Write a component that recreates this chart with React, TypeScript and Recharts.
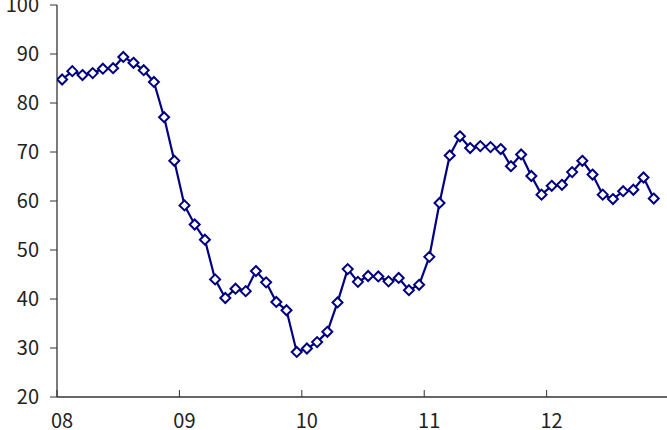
import React from 'react';
import { LineChart, Line, XAxis, YAxis } from 'recharts';

const months: string[] = [
  '2008-01','2008-02','2008-03','2008-04','2008-05','2008-06','2008-07','2008-08','2008-09','2008-10','2008-11','2008-12',
  '2009-01','2009-02','2009-03','2009-04','2009-05','2009-06','2009-07','2009-08','2009-09','2009-10','2009-11','2009-12',
  '2010-01','2010-02','2010-03','2010-04','2010-05','2010-06','2010-07','2010-08','2010-09','2010-10','2010-11','2010-12',
  '2011-01','2011-02','2011-03','2011-04','2011-05','2011-06','2011-07','2011-08','2011-09','2011-10','2011-11','2011-12',
  '2012-01','2012-02','2012-03','2012-04','2012-05','2012-06','2012-07','2012-08','2012-09','2012-10','2012-11',
];

const values: number[] = [
  84.8, 86.5, 85.7, 86.1, 87.0, 87.1, 89.4, 88.2, 86.7, 84.3, 77.1, 68.2,
  59.1, 55.2, 52.1, 44.0, 40.2, 42.1, 41.6, 45.7, 43.4, 39.4, 37.7, 29.2,
  29.9, 31.2, 33.3, 39.3, 46.1, 43.5, 44.7, 44.6, 43.6, 44.3, 41.8, 42.9,
  48.6, 59.6, 69.3, 73.2, 70.8, 71.2, 71.0, 70.6, 67.1, 69.5, 65.1, 61.3,
  63.1, 63.3, 65.9, 68.2, 65.4, 61.3, 60.4, 62.0, 62.3, 64.8, 60.5,
];

const yearTickPositions: number[] = [0, 12, 24, 36, 48];
const yearLabels: string[] = ['08', '09', '10', '11', '12'];
const yTicks: number[] = [20, 30, 40, 50, 60, 70, 80, 90, 100];

const data = months.map((m, i) => ({ month: m, x: i + 0.5, v: values[i] }));

const NAVY = '#000080';
const AXIS = '#333333';
const FONT = '"Noto Sans CJK JP", "Noto Sans", sans-serif';

const Diamond = (props: any) => {
  const { cx, cy, index } = props;
  if (cx == null || cy == null) return <g key={`d-${index}`} />;
  const r = 5;
  return (
    <path
      key={`d-${index}`}
      d={`M${cx},${cy - r} L${cx + r},${cy} L${cx},${cy + r} L${cx - r},${cy} Z`}
      fill="#ffffff"
      stroke={NAVY}
      strokeWidth={2}
    />
  );
};

const XTick = (props: any) => {
  const { x, y, payload } = props;
  const idx = yearTickPositions.indexOf(payload.value);
  return (
    <g>
      <line x1={x} x2={x} y1={y} y2={y - 7} stroke={AXIS} strokeWidth={1} />
      <text
        x={x + 5}
        y={y + 22}
        textAnchor="middle"
        dominantBaseline="central"
        fontFamily={FONT}
        fontSize={20}
        fill="#222"
      >
        {idx >= 0 ? yearLabels[idx] : ''}
      </text>
    </g>
  );
};

export default function App() {
  return (
    <div style={{ position: 'absolute', left: 0, top: 0, width: 667, height: 430, background: '#fff' }}>
      <LineChart
        width={667}
        height={430}
        data={data}
        margin={{ top: 5, right: 0, bottom: 0, left: 0 }}
      >
        <XAxis
          dataKey="x"
          type="number"
          domain={[0, 59.8]}
          ticks={yearTickPositions}
          interval={0}
          height={33}
          tickSize={0}
          tickMargin={0}
          tickLine={false}
          axisLine={{ stroke: AXIS, strokeWidth: 1.3 }}
          tick={<XTick />}
          allowDataOverflow
        />
        <YAxis
          type="number"
          domain={[20, 100]}
          ticks={yTicks}
          interval={0}
          width={57}
          tickSize={7}
          tickMargin={11}
          axisLine={{ stroke: AXIS, strokeWidth: 1.3 }}
          tickLine={{ stroke: AXIS, strokeWidth: 1 }}
          tick={{ fontFamily: FONT, fontSize: 20, fill: '#222' }}
        />
        <Line
          dataKey="v"
          stroke={NAVY}
          strokeWidth={2.2}
          dot={<Diamond />}
          activeDot={false}
          isAnimationActive={false}
        />
      </LineChart>
    </div>
  );
}
